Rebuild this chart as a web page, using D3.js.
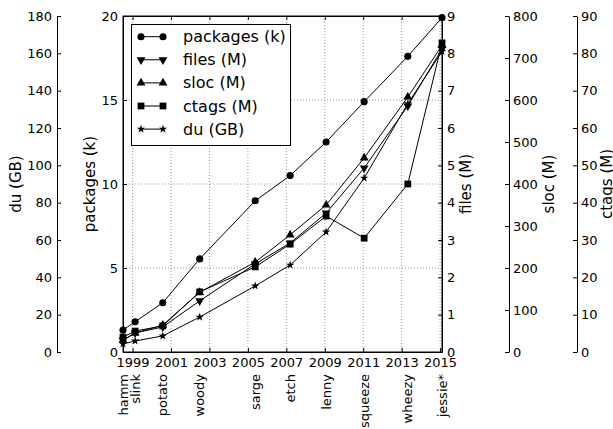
<!DOCTYPE html>
<html><head><meta charset="utf-8">
<script src="https://cdn.jsdelivr.net/npm/d3@7"></script>
<style>body{margin:0;background:#fff}svg{display:block}</style>
</head><body><svg id="c" width="613" height="429"></svg>
<script>
const releases = ["hamm","slink","potato","woody","sarge","etch","lenny","squeeze","wheezy","jessie*"];
const releaseYears = [1998.5, 1999.13, 2000.57, 2002.49, 2005.38, 2007.2, 2009.07, 2011.05, 2013.32, 2015.1];
const packages = [1.31, 1.80, 2.93, 5.54, 9.0, 10.5, 12.5, 14.9, 17.6, 19.9];
const files = [0.32, 0.51, 0.67, 1.37, 2.36, 2.92, 3.72, 4.93, 6.59, 8.12];
const sloc = [28, 45, 64, 142, 214, 279, 350, 462, 607, 730];
const ctags = [4.0, 5.6, 7.0, 16.1, 22.8, 28.9, 36.4, 30.5, 45, 82.8];
const du = [4.3, 5.9, 8.6, 18.7, 35.4, 46.6, 64.3, 93.2, 133, 161];
const xTicks = [1999,2001,2003,2005,2007,2009,2011,2013,2015];
const pkTicks = [0,5,10,15,20];
const filesTicks = [0,1,2,3,4,5,6,7,8,9];
const slocTicks = [0,100,200,300,400,500,600,700,800];
const ctagsTicks = [0,10,20,30,40,50,60,70,80,90];
const duTicks = [0,20,40,60,80,100,120,140,160,180];

const FONT = "DejaVu Sans";
const svg = d3.select("#c");
const L=123, R=442, T=16, B=352;
const x = d3.scaleLinear().domain([1998.5, 2015.1]).range([L, R]);
const yPk = d3.scaleLinear().domain([0,20]).range([B,T]);
const yFiles = d3.scaleLinear().domain([0,9]).range([B,T]);
const ySloc = d3.scaleLinear().domain([0,800]).range([B,T]);
const yCtags = d3.scaleLinear().domain([0,90]).range([B,T]);
const yDu = d3.scaleLinear().domain([0,180]).range([B,T]);

// grid
const grid = svg.append("g").attr("stroke","#999").attr("stroke-dasharray","1,2").attr("stroke-width",1);
xTicks.forEach(t=>grid.append("line").attr("x1",x(t)).attr("x2",x(t)).attr("y1",T).attr("y2",B));
pkTicks.slice(1,-1).forEach(t=>grid.append("line").attr("x1",L).attr("x2",R).attr("y1",yPk(t)).attr("y2",yPk(t)));

function styleAxis(g){
  g.attr("font-family",FONT).attr("font-size",13);
  g.selectAll("text").attr("fill","#000");
  g.selectAll("line").attr("stroke","#000");
  g.select(".domain").attr("stroke","#000");
}
svg.append("g").attr("transform",`translate(0,${B})`)
  .call(d3.axisBottom(x).tickValues(xTicks).tickFormat(d3.format("d")).tickSizeInner(-4).tickSizeOuter(0).tickPadding(6)).call(styleAxis);
svg.append("g").attr("transform",`translate(0,${T})`)
  .call(d3.axisTop(x).tickValues(xTicks).tickFormat("").tickSizeInner(-4).tickSizeOuter(0)).call(styleAxis);
svg.append("g").attr("transform",`translate(${L},0)`)
  .call(d3.axisLeft(yPk).tickValues(pkTicks).tickSizeInner(-4).tickSizeOuter(0).tickPadding(5)).call(styleAxis);
svg.append("g").attr("transform",`translate(${R},0)`)
  .call(d3.axisRight(yFiles).tickValues(filesTicks).tickSizeInner(-4).tickSizeOuter(0).tickPadding(5)).call(styleAxis);
svg.append("g").attr("transform",`translate(57,0)`)
  .call(d3.axisLeft(yDu).tickValues(duTicks).tickSizeInner(-4).tickSizeOuter(0).tickPadding(5)).call(styleAxis);
svg.append("g").attr("transform",`translate(509,0)`)
  .call(d3.axisRight(ySloc).tickValues(slocTicks).tickSizeInner(-4).tickSizeOuter(0).tickPadding(4)).call(styleAxis);
svg.append("g").attr("transform",`translate(577,0)`)
  .call(d3.axisRight(yCtags).tickValues(ctagsTicks).tickSizeInner(-4).tickSizeOuter(0).tickPadding(4)).call(styleAxis);

// frame
svg.append("rect").attr("x",L).attr("y",T).attr("width",R-L).attr("height",B-T)
  .attr("fill","none").attr("stroke","#000").attr("stroke-width",1);

// axis labels
const labels = [["du (GB)",16],["packages (k)",90],["files (M)",466],["sloc (M)",549],["ctags (M)",607]];
labels.forEach(([t,cx])=>{
  svg.append("text").attr("transform",`translate(${cx},184) rotate(-90)`)
    .attr("text-anchor","middle").attr("dominant-baseline","central")
    .attr("font-family",FONT).attr("font-size",15).attr("fill","#000").text(t);
});

// release names
releases.forEach((r,i)=>{
  svg.append("text").attr("transform",`translate(${x(releaseYears[i])},374) rotate(-90)`)
    .attr("text-anchor","end").attr("dominant-baseline","central")
    .attr("font-family",FONT).attr("font-size",13).attr("fill","#000").text(r);
});

// series
const series = [
  {name:"packages (k)", vals:packages, y:yPk, sym:d3.symbolCircle, size:40, rot:0},
  {name:"files (M)", vals:files, y:yFiles, sym:d3.symbolTriangle, size:34, rot:180},
  {name:"sloc (M)", vals:sloc, y:ySloc, sym:d3.symbolTriangle, size:34, rot:0},
  {name:"ctags (M)", vals:ctags, y:yCtags, sym:d3.symbolSquare, size:46, rot:0},
  {name:"du (GB)", vals:du, y:yDu, sym:d3.symbolStar, size:22, rot:0},
];
series.forEach(s=>{
  const pts = s.vals.map((v,i)=>[x(releaseYears[i]), s.y(v)]);
  svg.append("path").attr("d",d3.line()(pts)).attr("fill","none").attr("stroke","#000").attr("stroke-width",1);
  const sym = d3.symbol().type(s.sym).size(s.size);
  pts.forEach(p=>svg.append("path").attr("d",sym()).attr("fill","#000")
    .attr("transform",`translate(${p[0]},${p[1]}) rotate(${s.rot})`));
});

// legend
const lg = svg.append("g");
lg.append("rect").attr("x",131.5).attr("y",24.5).attr("width",159).attr("height",121)
  .attr("fill","#fff").attr("stroke","#000").attr("stroke-width",1);
series.forEach((s,i)=>{
  const yy = 36.7 + i*23.1;
  lg.append("line").attr("x1",141).attr("x2",163).attr("y1",yy).attr("y2",yy).attr("stroke","#000");
  const sym = d3.symbol().type(s.sym).size(s.size);
  [141,163].forEach(px=>lg.append("path").attr("d",sym()).attr("fill","#000")
    .attr("transform",`translate(${px},${yy}) rotate(${s.rot})`));
  lg.append("text").attr("x",183).attr("y",yy).attr("dominant-baseline","central")
    .attr("font-family",FONT).attr("font-size",16).attr("fill","#000").text(s.name);
});
</script></body></html>
